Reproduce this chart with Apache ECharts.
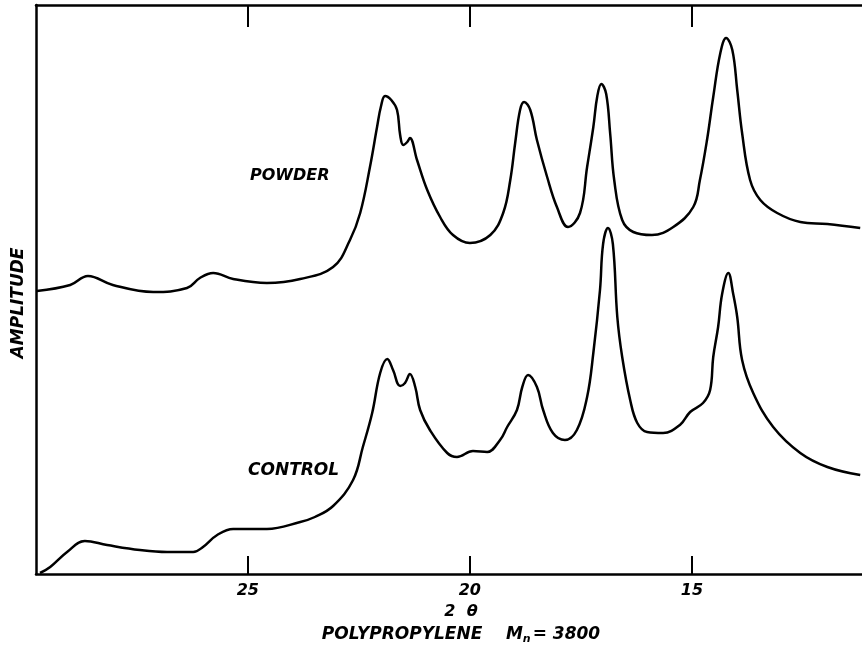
<!DOCTYPE html>
<html>
<head>
<meta charset="utf-8">
<script src="https://cdn.jsdelivr.net/npm/echarts@6/dist/echarts.min.js"></script>
<style>
  html, body { margin: 0; padding: 0; background: #fff; }
  #main { width: 862px; height: 649px; }
</style>
</head>
<body>
<div id="main"></div>
<script>
// 2 theta (degrees) and amplitude (arbitrary units)
var powderTheta = [29.75, 29.00, 28.60, 28.04, 27.13, 26.37, 26.08, 25.78, 25.33, 24.57, 23.82, 23.08,
  22.70, 22.47, 22.25, 22.09, 22.00, 21.91, 21.77, 21.64, 21.57, 21.50, 21.41, 21.35, 21.19, 20.96,
  20.67, 20.38, 20.00, 19.54, 19.25, 19.09, 18.98, 18.87, 18.78, 18.64, 18.49, 18.26, 18.04, 17.79,
  17.52, 17.36, 17.22, 17.13, 17.04, 16.93, 16.84, 16.75, 16.57, 16.32, 15.90, 15.42, 14.97, 14.82,
  14.66, 14.52, 14.36, 14.23, 14.09, 13.98, 13.87, 13.69, 13.46, 13.08, 12.56, 11.95, 11.21];
var powderAmp = [283, 289, 298, 289, 282, 286, 296, 301, 295, 291, 295, 307,
  334, 361, 407, 447, 468, 478, 474, 464, 439, 429, 432, 436, 414, 384,
  357, 339, 331, 339, 361, 394, 431, 464, 472, 464, 434, 397, 367, 347,
  361, 407, 447, 478, 490, 480, 440, 394, 354, 342, 339, 347, 367, 394,
  434, 477, 521, 536, 524, 484, 441, 394, 374, 361, 352, 350, 346];

var controlTheta = [29.68, 29.45, 29.07, 28.67, 28.17, 27.43, 26.82, 26.23, 26.01, 25.69, 25.33, 24.57,
  23.82, 23.49, 23.08, 22.63, 22.41, 22.20, 22.02, 21.86, 21.73, 21.57, 21.46, 21.35, 21.23, 21.12,
  20.90, 20.51, 20.29, 19.93, 19.61, 19.32, 19.16, 18.94, 18.82, 18.69, 18.49, 18.35, 18.13, 17.86,
  17.59, 17.36, 17.22, 17.07, 17.00, 16.89, 16.78, 16.68, 16.57, 16.39, 16.23, 16.01, 15.65, 15.27,
  15.04, 14.75, 14.59, 14.52, 14.41, 14.32, 14.18, 14.07, 13.98, 13.87, 13.62, 13.17, 12.56, 11.95, 11.21];
var controlAmp = [1, 7, 22, 33, 29, 24, 22, 22, 27, 39, 45, 45,
  52, 57, 68, 94, 127, 161, 201, 215, 204, 188, 191, 200, 187, 164,
  144, 121, 117, 123, 122, 134, 147, 164, 187, 199, 187, 164, 141, 134,
  144, 177, 221, 284, 330, 346, 330, 257, 217, 174, 151, 142, 141, 149,
  162, 171, 184, 217, 247, 280, 301, 280, 257, 214, 181, 147, 121, 107, 99];

var xTicks = [15, 20, 25];

function pairs(xs, ys) {
  var out = [];
  for (var i = 0; i < xs.length; i++) out.push([xs[i], ys[i]]);
  return out;
}

var chart = echarts.init(document.getElementById('main'));
var ink = '#000';
var font = 'DejaVu Sans';

var option = {
  animation: false,
  backgroundColor: '#fff',
  grid: { left: 36, right: 0, top: 5, bottom: 75 },
  xAxis: [{
    type: 'value', position: 'bottom', inverse: true,
    min: 11.17, max: 29.77,
    axisLine: { show: true, lineStyle: { color: ink, width: 2.5 } },
    axisTick: { show: true, inside: true, length: 18, customValues: xTicks, lineStyle: { color: ink, width: 2 } },
    axisLabel: { show: true, customValues: xTicks, color: ink, fontFamily: font, fontSize: 16,
      fontWeight: 'bold', fontStyle: 'italic', margin: 9 },
    splitLine: { show: false }
  }, {
    type: 'value', position: 'top', inverse: true,
    min: 11.17, max: 29.77,
    axisLine: { show: true, lineStyle: { color: ink, width: 2.5 } },
    axisTick: { show: true, inside: true, length: 22, customValues: xTicks, lineStyle: { color: ink, width: 2 } },
    axisLabel: { show: false },
    splitLine: { show: false }
  }],
  yAxis: {
    type: 'value', min: 0, max: 569,
    axisLine: { show: true, lineStyle: { color: ink, width: 2.5 } },
    axisTick: { show: false },
    axisLabel: { show: false },
    splitLine: { show: false }
  },
  series: [{
    name: 'POWDER', type: 'line', smooth: 0.4, symbol: 'none',
    lineStyle: { color: ink, width: 2.5 },
    data: pairs(powderTheta, powderAmp)
  }, {
    name: 'CONTROL', type: 'line', smooth: 0.4, symbol: 'none',
    lineStyle: { color: ink, width: 2.5 },
    data: pairs(controlTheta, controlAmp)
  }],
  graphic: [
    { type: 'text', left: 250, top: 168,
      style: { text: 'POWDER', fill: ink, font: 'italic bold 16px "DejaVu Sans"' } },
    { type: 'text', left: 248, top: 462,
      style: { text: 'CONTROL', fill: ink, font: 'italic bold 17px "DejaVu Sans"' } },
    { type: 'text', x: 19, y: 303, rotation: Math.PI / 2,
      style: { text: 'AMPLITUDE', fill: ink, font: 'italic bold 17px "DejaVu Sans"',
        textAlign: 'center', textVerticalAlign: 'middle' } },
    { type: 'text', x: 461, y: 612,
      style: { text: '2  θ', fill: ink, font: 'italic bold 16px "DejaVu Sans"',
        textAlign: 'center', textVerticalAlign: 'middle' } },
    { type: 'text', x: 461, y: 635,
      style: {
        text: '{a|POLYPROPYLENE    M}{s|n}{a|= 3800}',
        textAlign: 'center', textVerticalAlign: 'middle',
        rich: {
          a: { fill: ink, fontFamily: font, fontSize: 17, fontWeight: 'bold', fontStyle: 'italic' },
          s: { fill: ink, fontFamily: font, fontSize: 11, fontWeight: 'bold', fontStyle: 'italic', padding: [8, 2, 0, 0] }
        }
      } }
  ]
};
chart.setOption(option);
</script>
</body>
</html>
